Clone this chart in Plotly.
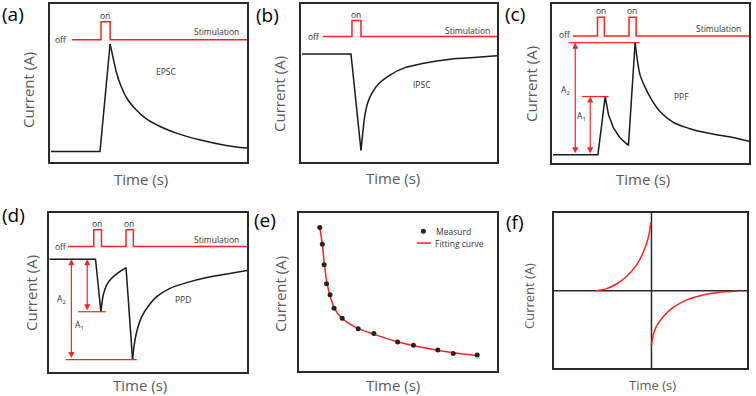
import plotly.graph_objects as go

W, H = 756, 396
RED = "#ff2020"
INK = "#1a1a1a"
GREY = "#5a5a5a"
FONT = "Open Sans"

# ---- data (normalised 0..1 inside each panel) ----
# (a) EPSC
A_STIM_X = [0.112, 0.259, 0.259, 0.305, 0.305, 1.0]
A_STIM_Y = [0.773, 0.773, 0.888, 0.888, 0.773, 0.773]
A_RISE_X = [0.005, 0.254, 0.305]
A_RISE_Y = [0.067, 0.067, 0.747]
A_DECAY_X = [0.305, 0.319, 0.336, 0.361, 0.395, 0.437, 0.488, 0.556, 0.641, 0.759, 0.895, 1.0]
A_DECAY_Y = [0.747, 0.667, 0.573, 0.478, 0.394, 0.331, 0.274, 0.226, 0.183, 0.141, 0.105, 0.088]

# (b) IPSC
B_STIM_X = [0.112, 0.260, 0.260, 0.306, 0.306, 1.0]
B_STIM_Y = [0.794, 0.794, 0.895, 0.895, 0.794, 0.794]
B_DROP_X = [0.005, 0.255, 0.306]
B_DROP_Y = [0.684, 0.684, 0.074]
B_REC_X = [0.306, 0.315, 0.325, 0.340, 0.362, 0.396, 0.456, 0.524, 0.626, 0.762, 0.898, 1.0]
B_REC_Y = [0.074, 0.183, 0.288, 0.373, 0.436, 0.495, 0.552, 0.594, 0.625, 0.651, 0.663, 0.672]

# (c) PPF
C_STIM_X = [0.106, 0.231, 0.231, 0.266, 0.266, 0.391, 0.391, 0.427, 0.427, 1.0]
C_STIM_Y = [0.799, 0.799, 0.916, 0.916, 0.799, 0.799, 0.916, 0.916, 0.799, 0.799]
C_CUR_X = [0.005, 0.233, 0.270, 0.287, 0.312, 0.346, 0.388, 0.422]
C_CUR_Y = [0.052, 0.052, 0.418, 0.303, 0.220, 0.157, 0.111, 0.757]
C_DECAY_X = [0.422, 0.433, 0.447, 0.472, 0.506, 0.548, 0.616, 0.717, 0.835, 0.919, 1.0]
C_DECAY_Y = [0.757, 0.649, 0.554, 0.477, 0.397, 0.324, 0.255, 0.209, 0.178, 0.161, 0.136]

# (d) PPD
D_STIM_X = [0.096, 0.226, 0.226, 0.265, 0.265, 0.389, 0.389, 0.426, 0.426, 1.0]
D_STIM_Y = [0.789, 0.789, 0.895, 0.895, 0.789, 0.789, 0.895, 0.895, 0.789, 0.789]
D_CUR_X = [0.003, 0.235, 0.262]
D_CUR_Y = [0.709, 0.709, 0.379]
D_REC1_X = [0.262, 0.274, 0.291, 0.316, 0.350, 0.389]
D_REC1_Y = [0.379, 0.484, 0.547, 0.589, 0.625, 0.657]
D_DROP_X = [0.389, 0.422]
D_DROP_Y = [0.657, 0.078]
D_REC2_X = [0.422, 0.429, 0.443, 0.468, 0.502, 0.544, 0.611, 0.696, 0.797, 0.899, 1.0]
D_REC2_Y = [0.078, 0.158, 0.253, 0.347, 0.415, 0.474, 0.526, 0.562, 0.594, 0.617, 0.638]

# (e) measured points and fitting curve
E_PTS_X = [0.105, 0.118, 0.127, 0.139, 0.157, 0.177, 0.218, 0.299, 0.378, 0.498, 0.578, 0.701, 0.779, 0.900]
E_PTS_Y = [0.909, 0.803, 0.672, 0.552, 0.482, 0.397, 0.334, 0.268, 0.237, 0.184, 0.163, 0.133, 0.110, 0.101]
E_FIT_X = [0.105, 0.118, 0.128, 0.140, 0.157, 0.178, 0.215, 0.260, 0.300, 0.380, 0.480, 0.580, 0.700, 0.800, 0.900]
E_FIT_Y = [0.909, 0.800, 0.680, 0.565, 0.475, 0.400, 0.335, 0.295, 0.268, 0.232, 0.192, 0.160, 0.132, 0.112, 0.097]

# (f) STDP-like curves
F_LEFT_X = [0.217, 0.272, 0.324, 0.376, 0.428, 0.462, 0.488, 0.502]
F_LEFT_Y = [0.499, 0.512, 0.542, 0.590, 0.665, 0.745, 0.838, 0.940]
F_RIGHT_X = [0.505, 0.514, 0.531, 0.566, 0.617, 0.686, 0.772, 0.859, 0.953]
F_RIGHT_Y = [0.147, 0.212, 0.270, 0.330, 0.391, 0.438, 0.471, 0.488, 0.497]
F_CROSS_X = 0.505
F_CROSS_Y = 0.499

# panel boxes in pixels: left, right, top, bottom
BOXES = [
    (50, 247, 4, 162),
    (301, 497, 4, 162),
    (552, 749, 4, 163),
    (49, 247, 213, 372),
    (299, 497, 213, 371),
    (554, 747, 213, 368),
]
LABELS = ["(a)", "(b)", "(c)", "(d)", "(e)", "(f)"]
LABEL_POS = [(13, 14), (267, 15), (515, 14), (13, 215), (265, 220), (515, 222)]
YT_POS = [(28, 90), (279, 94), (531, 84), (31, 293), (280, 294), (529, 296)]
XT_POS = [(141, 179), (393, 178), (643, 179), (140, 385), (393, 385), (652, 385)]

fig = go.Figure()
layout = dict(width=W, height=H, margin=dict(l=0, r=0, t=0, b=0),
              plot_bgcolor="white", paper_bgcolor="white", showlegend=False,
              font=dict(family=FONT))
annotations = []


def px(x, y):
    return x / W, 1 - y / H


def note(s, x, y, size, color, angle=0):
    annotations.append(dict(text=s, x=x, y=y, xref="paper", yref="paper", showarrow=False,
                            xanchor="center", yanchor="middle", textangle=angle,
                            font=dict(size=size, color=color)))


for i, (l, r, t, b) in enumerate(BOXES):
    n = "" if i == 0 else str(i + 1)
    ax = dict(range=[0, 1], showticklabels=False, showgrid=False, zeroline=False,
              showline=True, mirror=True, linecolor="#2a2a2a", linewidth=1.5,
              ticks="", fixedrange=True)
    layout["xaxis" + n] = dict(ax, domain=[l / W, r / W], anchor="y" + n)
    layout["yaxis" + n] = dict(ax, domain=[1 - b / H, 1 - t / H], anchor="x" + n)
    small = i == 5
    note(LABELS[i], *px(*LABEL_POS[i]), 19, "black")
    note("Current (A)", *px(*YT_POS[i]), 13 if small else 15, GREY, -90)
    note("Time (s)", *px(*XT_POS[i]), 13 if small else 15, GREY)


def line(k, xs, ys, color=INK, width=1.5, shape="linear"):
    n = "" if k == 1 else str(k)
    fig.add_trace(go.Scatter(x=xs, y=ys, mode="lines", xaxis="x" + n, yaxis="y" + n,
                             line=dict(color=color, width=width, shape=shape,
                                       smoothing=0.8 if shape == "spline" else None),
                             hoverinfo="skip"))


def txt(k, s, x, y, size=8.5, color="#333333", xanchor="center"):
    n = "" if k == 1 else str(k)
    annotations.append(dict(text=s, x=x, y=y, xref="x" + n, yref="y" + n, showarrow=False,
                            xanchor=xanchor, yanchor="middle",
                            font=dict(size=size, color=color)))


def darrow(k, x, y0, y1):
    n = "" if k == 1 else str(k)
    annotations.append(dict(text="", x=x, y=y1, ax=x, ay=y0, xref="x" + n, yref="y" + n,
                            axref="x" + n, ayref="y" + n, showarrow=True, arrowhead=2,
                            arrowside="end+start", arrowsize=1, arrowwidth=1.2,
                            arrowcolor=RED, standoff=0, startstandoff=0))


# (a)
line(1, A_STIM_X, A_STIM_Y, RED)
line(1, A_RISE_X, A_RISE_Y)
line(1, A_DECAY_X, A_DECAY_Y, shape="spline")
txt(1, "on", 0.281, 0.93)
txt(1, "off", 0.056, 0.773)
txt(1, "Stimulation", 0.847, 0.823)
txt(1, "EPSC", 0.590, 0.573)

# (b)
line(2, B_STIM_X, B_STIM_Y, RED)
line(2, B_DROP_X, B_DROP_Y)
line(2, B_REC_X, B_REC_Y, shape="spline")
txt(2, "on", 0.282, 0.933)
txt(2, "off", 0.065, 0.794)
txt(2, "Stimulation", 0.847, 0.834)
txt(2, "IPSC", 0.617, 0.488)

# (c)
line(3, C_STIM_X, C_STIM_Y, RED)
line(3, C_CUR_X, C_CUR_Y)
line(3, C_DECAY_X, C_DECAY_Y, shape="spline")
line(3, [0.084, 0.444], [0.757, 0.757], RED, 1.2)
line(3, [0.152, 0.287], [0.418, 0.418], RED, 1.2)
darrow(3, 0.118, 0.052, 0.757)
darrow(3, 0.194, 0.052, 0.418)
txt(3, "A<sub>2</sub>", 0.067, 0.454)
txt(3, "A<sub>1</sub>", 0.152, 0.293)
txt(3, "on", 0.250, 0.962)
txt(3, "on", 0.408, 0.962)
txt(3, "off", 0.067, 0.805)
txt(3, "Stimulation", 0.843, 0.843)
txt(3, "PPF", 0.658, 0.418)

# (d)
line(4, D_STIM_X, D_STIM_Y, RED)
line(4, D_CUR_X, D_CUR_Y)
line(4, D_REC1_X, D_REC1_Y, shape="spline")
line(4, D_DROP_X, D_DROP_Y)
line(4, D_REC2_X, D_REC2_Y, shape="spline")
line(4, [0.147, 0.287], [0.379, 0.379], RED, 1.2)
line(4, [0.084, 0.443], [0.078, 0.078], RED, 1.2)
darrow(4, 0.193, 0.379, 0.709)
darrow(4, 0.113, 0.078, 0.709)
txt(4, "A<sub>2</sub>", 0.063, 0.453)
txt(4, "A<sub>1</sub>", 0.152, 0.295)
txt(4, "on", 0.243, 0.937)
txt(4, "on", 0.405, 0.937)
txt(4, "off", 0.063, 0.789)
txt(4, "Stimulation", 0.845, 0.834)
txt(4, "PPD", 0.676, 0.459)

# (e)
line(5, E_FIT_X, E_FIT_Y, RED, 1.5, "spline")
fig.add_trace(go.Scatter(x=E_PTS_X, y=E_PTS_Y, mode="markers", xaxis="x5", yaxis="y5",
                         marker=dict(color="#222222", size=5), hoverinfo="skip"))
fig.add_trace(go.Scatter(x=[0.628], y=[0.884], mode="markers", xaxis="x5", yaxis="y5",
                         marker=dict(color="#222222", size=5), hoverinfo="skip"))
line(5, [0.595, 0.666], [0.810, 0.810], RED, 1.5)
txt(5, "Measurd", 0.684, 0.884, xanchor="left")
txt(5, "Fitting curve", 0.675, 0.810, xanchor="left")

# (f)
line(6, [F_CROSS_X, F_CROSS_X], [0, 1], "#2a2a2a", 1.5)
line(6, [0, 1], [F_CROSS_Y, F_CROSS_Y], "#2a2a2a", 1.5)
line(6, F_LEFT_X, F_LEFT_Y, RED, 1.5, "spline")
line(6, F_RIGHT_X, F_RIGHT_Y, RED, 1.5, "spline")

layout["annotations"] = annotations
fig.update_layout(**layout)
# the page has a default 8px body margin; drop it so the figure fills the window
fig.write_html("out.html", config={"displayModeBar": False},
               post_script="document.body.style.margin='0px';")
